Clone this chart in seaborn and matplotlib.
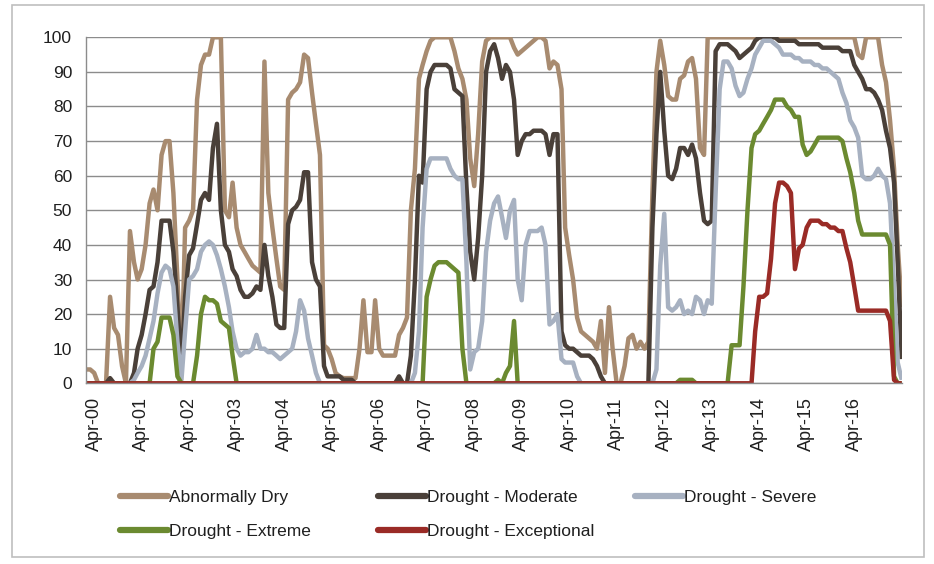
import numpy as np
import pandas as pd
import matplotlib
matplotlib.use("Agg")
import matplotlib.pyplot as plt
import matplotlib.dates as mdates
from matplotlib import font_manager
from matplotlib.lines import Line2D
from matplotlib.patches import Rectangle
import seaborn as sns

# Dados (percentual da área em cada categoria de seca, mensal fev/2000 - abr/2017)
dates = pd.date_range("2000-02-01", periods=207, freq="MS")
tick_dates = pd.date_range("2000-04-01", "2016-04-01", freq="12MS")

abnormally_dry = (
    [4, 4, 3, 0, 0, 0, 25, 16, 14, 5]
    + [0, 44, 35, 30, 33, 40, 52, 56, 50, 66]
    + [70, 70, 55, 30, 5, 45, 47, 50, 82, 92]
    + [95, 95, 100, 100, 100, 50, 48, 58, 45, 40]
    + [38, 36, 34, 33, 32, 93, 55, 45, 36, 28]
    + [27, 82, 84, 85, 87, 95, 94, 84, 75, 66]
    + [11, 10, 7, 3, 2, 1.5, 1.5, 1.5, 1.5, 10]
    + [24, 9, 9, 24, 10, 8, 8, 8, 8, 14]
    + [16, 19, 50, 62, 88, 92, 96, 99, 100, 100]
    + [100, 100, 100, 96, 91, 88, 82, 65, 57, 72]
    + [93, 99, 100, 100, 100, 100, 100, 100, 97, 95]
    + [96, 97, 98, 99, 100, 100, 99, 91, 93, 92]
    + [85, 45, 37, 30, 19, 15, 14, 13, 12, 10]
    + [18, 3, 22, 10, 0, 0, 5, 13, 14, 10]
    + [12, 10, 12, 55, 90, 99, 92, 83, 82, 82]
    + [88, 89, 93, 94, 88, 68, 66, 100, 100, 100]
    + [100] * 30
    + [100, 100, 100, 100, 100, 95, 94, 100, 100, 100]
    + [100, 92, 87, 76, 62, 40, 22]
)

moderate = (
    [0, 0, 0, 0, 0, 0, 1.5, 0, 0, 0]
    + [0, 0, 3, 10, 14, 20, 27, 28, 35, 47]
    + [47, 47, 38, 22, 5, 25, 37, 39, 46, 53]
    + [55, 53, 68, 75, 50, 40, 38, 33, 31, 27]
    + [25, 25, 26, 28, 27, 40, 31, 25, 17, 16]
    + [16, 46, 50, 51, 53, 61, 61, 35, 30, 28]
    + [5, 2, 2, 2, 2, 1, 1, 1, 0, 0]
    + [0, 0, 0, 0, 0, 0, 0, 0, 0, 2]
    + [0, 0, 8, 30, 60, 58, 85, 90, 92, 92]
    + [92, 92, 91, 85, 84, 83, 57, 38, 30, 42]
    + [60, 90, 96, 98, 94, 88, 92, 90, 82, 66]
    + [70, 72, 72, 73, 73, 73, 72, 66, 72, 72]
    + [15, 11, 10, 10, 9, 8, 8, 8, 7, 5]
    + [2, 0, 0, 0, 0, 0, 0, 0, 0, 0]
    + [0, 0, 0, 45, 72, 90, 73, 60, 59, 62]
    + [68, 68, 66, 69, 65, 55, 47, 46, 47, 96]
    + [98, 98, 98, 97, 96, 94, 95, 96, 97, 99]
    + [100, 100, 100, 100, 100, 99, 99, 99, 99, 99]
    + [98, 98, 98, 98, 98, 98, 97, 97, 97, 97]
    + [97, 96, 96, 96, 92, 90, 88, 85, 85, 84]
    + [82, 79, 73, 68, 58, 35, 7]
)

severe = (
    [0] * 10
    + [0, 0, 1, 3, 5, 8, 13, 18, 26, 32]
    + [34, 33, 28, 12, 1, 15, 30, 31, 33, 38]
    + [40, 41, 40, 37, 33, 28, 22, 15, 10, 8]
    + [9, 9, 10, 14, 10, 10, 9, 9, 8, 7]
    + [8, 9, 10, 15, 24, 21, 13, 8, 3, 0]
    + [0] * 20
    + [0, 0, 0, 3, 15, 45, 62, 65, 65, 65]
    + [65, 65, 62, 60, 59, 59, 35, 4, 9, 10]
    + [18, 38, 47, 52, 54, 48, 42, 50, 53, 30]
    + [24, 40, 44, 44, 44, 45, 40, 17, 18, 20]
    + [7, 6, 6, 6, 2, 0, 0, 0, 0, 0]
    + [0] * 10
    + [0, 0, 0, 0, 4, 34, 49, 22, 21, 22]
    + [24, 20, 21, 20, 25, 24, 20, 24, 23, 55]
    + [85, 93, 93, 91, 86, 83, 84, 88, 91, 95]
    + [97, 99, 99, 99, 98, 97, 95, 95, 95, 94]
    + [94, 93, 93, 93, 92, 92, 91, 91, 90, 89]
    + [88, 84, 81, 76, 74, 71, 60, 59, 59, 60]
    + [62, 60, 59, 52, 28, 6, 1]
)

extreme = (
    [0] * 10
    + [0, 0, 0, 0, 0, 0, 0, 10, 12, 19]
    + [19, 19, 14, 2, 0, 0, 0, 0, 8, 20]
    + [25, 24, 24, 23, 18, 17, 16, 8, 0, 0]
    + [0] * 40
    + [0, 0, 0, 0, 0, 0, 25, 30, 34, 35]
    + [35, 35, 34, 33, 32, 10, 0, 0, 0, 0]
    + [0, 0, 0, 0, 1, 0, 3, 5, 18, 0]
    + [0] * 40
    + [1, 1, 1, 1, 0, 0, 0, 0, 0, 0]
    + [0, 0, 0, 11, 11, 11, 28, 50, 68, 72]
    + [73, 75, 77, 79, 82, 82, 82, 80, 79, 77]
    + [77, 69, 66, 67, 69, 71, 71, 71, 71, 71]
    + [71, 70, 65, 61, 55, 47, 43, 43, 43, 43]
    + [43, 43, 43, 40, 2, 0, 0]
)

exceptional = (
    [0] * 168
    + [0, 15]
    + [25, 25, 26, 36, 52, 58, 58, 57, 55, 33]
    + [39, 40, 45, 47, 47, 47, 46, 46, 45, 45]
    + [44, 44, 39, 35, 28, 21, 21, 21, 21, 21]
    + [21, 21, 21, 18, 1, 0, 0]
)

series_names = ["Abnormally Dry", "Drought - Moderate", "Drought - Severe",
                "Drought - Extreme", "Drought - Exceptional"]
series_values = [abnormally_dry, moderate, severe, extreme, exceptional]
COLORS = {
    "Abnormally Dry": "#A88B70",
    "Drought - Moderate": "#4A4039",
    "Drought - Severe": "#A7B1C1",
    "Drought - Extreme": "#6B8A30",
    "Drought - Exceptional": "#9A2B26",
}

df = pd.concat(
    [pd.DataFrame({"date": dates, "value": v, "series": n})
     for n, v in zip(series_names, series_values)],
    ignore_index=True,
)

# Fonte (Arial Narrow -> Liberation Sans Narrow, se existir)
sns.set_theme(style="white")
available = {f.name for f in font_manager.fontManager.ttflist}
if "Liberation Sans Narrow" in available:
    FONT, FS = "Liberation Sans Narrow", 15
else:
    FONT, FS = "Liberation Sans", 12.5
plt.rcParams["font.family"] = [FONT, "DejaVu Sans"]

fig = plt.figure(figsize=(9.34, 5.64), dpi=100)
ax = fig.add_axes([86 / 934, 1 - 383.3 / 564, (902 - 86) / 934, (383.3 - 37.3) / 564])

sns.lineplot(data=df, x="date", y="value", hue="series", hue_order=series_names,
             palette=COLORS, linewidth=3.2, legend=False, ax=ax,
             solid_joinstyle="round", solid_capstyle="butt")

ax.set_ylim(0, 100)
ax.set_xlim(dates[0] - pd.Timedelta(days=3), dates[-1] + pd.Timedelta(days=2))
ax.set_yticks(np.arange(0, 101, 10))
ax.yaxis.grid(True, color="#8C8C8C", linewidth=1)
ax.xaxis.grid(False)
ax.set_xlabel("")
ax.set_ylabel("")

ax.set_xticks(tick_dates)
ax.xaxis.set_major_formatter(mdates.DateFormatter("%b-%y"))
ax.tick_params(axis="x", rotation=90, labelsize=FS + 0.5, colors="#8C8C8C",
               labelcolor="#1F1F1F", length=6, width=1, direction="out", pad=4)
ax.tick_params(axis="y", labelsize=FS, labelcolor="#1F1F1F", length=0, pad=10)

for side in ["top", "right"]:
    ax.spines[side].set_visible(False)
for side in ["left", "bottom"]:
    ax.spines[side].set_color("#8C8C8C")
    ax.spines[side].set_linewidth(1)

# Legenda em 3 colunas (posições como no original)
def make_handles(names):
    return [Line2D([0], [0], color=COLORS[n], lw=4.5) for n in names]

legend_cols = [
    (["Abnormally Dry", "Drought - Extreme"], 120, 514.5),
    (["Drought - Moderate", "Drought - Exceptional"], 378, 514.5),
    (["Drought - Severe"], 635, 497),
]
for names, x_px, y_px in legend_cols:
    leg = fig.legend(make_handles(names), names, loc="center left",
                     bbox_to_anchor=(x_px / 934, 1 - y_px / 564),
                     frameon=False, fontsize=FS, handlelength=2.75,
                     handletextpad=0.05, labelspacing=1.1, borderpad=0,
                     borderaxespad=0)
    for t in leg.get_texts():
        t.set_color("#1F1F1F")

# Moldura da figura
fig.patches.append(Rectangle((12 / 934, 7 / 564), 912 / 934, 552 / 564,
                             transform=fig.transFigure, fill=False,
                             edgecolor="#BFBFBF", linewidth=1.2))

plt.savefig("out.png", dpi=100)
plt.close()
